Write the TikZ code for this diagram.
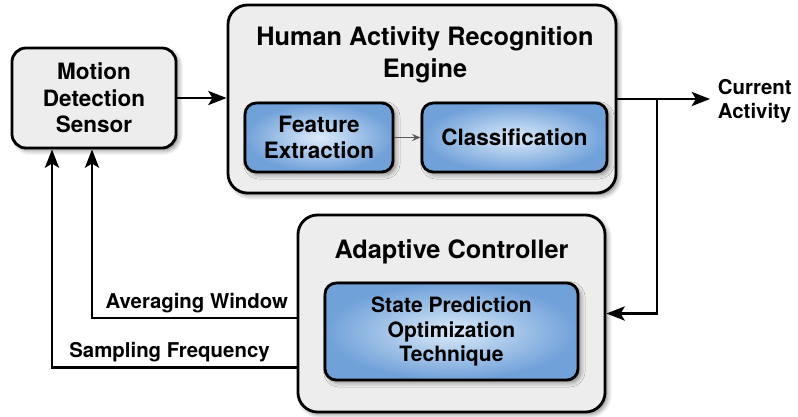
\documentclass[tikz,border=0pt]{standalone}
\usepackage{fontspec}
\setmainfont{TeX Gyre Heros}
\usetikzlibrary{calc,positioning,arrows.meta,shadows,shadows.blur}
\definecolor{boxgray}{rgb}{0.93,0.93,0.93}
\definecolor{blueedge}{rgb}{0.44,0.63,0.85}
\definecolor{bluemid}{rgb}{0.86,0.92,0.98}
\tikzset{
    softshadow/.style={
    blur shadow={shadow xshift=2pt,shadow yshift=-2pt,shadow blur radius=3pt,shadow opacity=45}
    },
    block/.style={
    rectangle,rounded corners=10pt,draw=black,line width=2pt,fill=boxgray,softshadow,
    align=center,font=\bfseries\fontsize{16}{19}\selectfont
    },
    engine/.style={
    block,rounded corners=14pt
    },
    sub/.style={
    rectangle,rounded corners=8pt,draw=black,line width=2pt,
    inner color=bluemid,outer color=blueedge,softshadow,
    align=center,font=\bfseries\fontsize{16}{19}\selectfont
    },
  title/.style={align=center,font=\bfseries\fontsize{18}{22.7}\selectfont},
  lbl/.style={align=left,font=\bfseries\fontsize{14.5}{17.5}\selectfont},
  line/.style={draw,line width=2pt,-{Stealth[length=13pt,width=10pt,inset=3pt]}},
  thinline/.style={draw,line width=1pt,gray!70!black,-{Stealth[length=6pt,width=5pt]}}
}
\begin{document}
\begin{tikzpicture}[x=0.025cm,y=-0.025cm]
    \useasboundingbox (0,0) rectangle (798,416);

    \node[block,minimum width=4.1cm,minimum height=2.5cm] (sensor) at (94,98) {Motion\\Detection\\Sensor};

    % recognition engine and its two stages
    \node[engine,minimum width=9.7cm,minimum height=4.7cm] (har) at (422,99) {};
    \node[title] (hartitle) at (425,55) {Human Activity Recognition\\Engine};
    \node[sub,minimum width=3.7cm,minimum height=1.725cm] (feat) at (319,137.5) {Feature\\Extraction};
    \node[sub,minimum width=4.625cm,minimum height=1.725cm] (cls) at (514.5,137.5) {Classification};

    % controller
    \node[engine,minimum width=7.675cm,minimum height=4.925cm] (ctrl) at (451.5,313.5) {};
    \node[title] (ctrltitle) at (451.5,252) {Adaptive Controller};
    \node[sub,minimum width=6.325cm,minimum height=2.425cm,font=\bfseries\fontsize{15}{17.7}\selectfont] (pred) at (451.5,331.5) {State Prediction\\Optimization\\Technique};

    \coordinate (split) at (657,99);
    \coordinate (out) at (710,99);
    \node[lbl,anchor=west] (act) at (713,101) {Current\\Activity};

    \node[lbl,anchor=east] (awlbl) at (293,303) {Averaging Window};
    \node[lbl] (sflbl) at (169.5,352) {Sampling Frequency};

    \path[thinline] (feat) -- (cls);

    \begin{scope} [every path/.style=line]
      \path (sensor.east) -- (sensor.east -| har.west);
      \path (har.east) -- (out);
      \path (split) |- (ctrl.east);

      \path ([yshift=-0.11cm]ctrl.west) -| ([xshift=-0.05cm]sensor.south);
      \path ([yshift=-1.34cm]ctrl.west) -| ([xshift=-1.05cm]sensor.south);
    \end{scope}
\end{tikzpicture}
\end{document}
